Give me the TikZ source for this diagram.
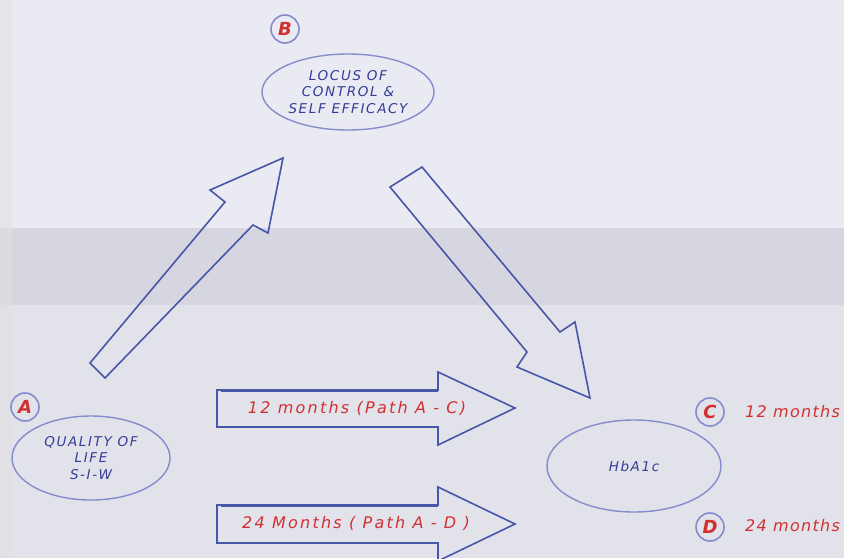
\documentclass[tikz,border=0pt]{standalone}
\usepackage{fontspec}
\setmainfont{DejaVu Sans}
\newfontfamily\wideit[LetterSpace=12]{DejaVu Sans}
\newfontfamily\widerit[LetterSpace=8]{DejaVu Sans}
\newfontfamily\widestit[LetterSpace=14]{DejaVu Sans}
\usetikzlibrary{shapes.geometric}
\definecolor{pagebg}{RGB}{234,234,243}
\definecolor{bandbg}{RGB}{214,214,224}
\definecolor{lowbg}{RGB}{226,226,235}
\definecolor{arrowblue}{RGB}{72,86,168}
\definecolor{ellblue}{RGB}{132,140,206}
\definecolor{txtblue}{RGB}{52,62,150}
\definecolor{lblred}{RGB}{210,48,48}
\tikzset{
  oval/.style={ellipse, draw=ellblue, line width=1.4pt, text=txtblue, align=center,
     font=\wideit\itshape\fontsize{13.5}{16.5}\selectfont, inner sep=0pt},
  letterring/.style={circle, draw=ellblue, line width=1.6pt, minimum size=28pt, inner sep=0pt,
     text=lblred, font=\bfseries\itshape\fontsize{18}{18}\selectfont},
  redlabel/.style={text=lblred, font=\widerit\itshape\fontsize{16}{16}\selectfont, inner sep=0pt},
  pathlabel/.style={text=lblred, font=\widestit\itshape\fontsize{16}{16}\selectfont, inner sep=0pt}
}
\tikzset{
  blockarrow/.style={draw=arrowblue, line width=1.6pt, line join=miter}
}
\begin{document}
\begin{tikzpicture}[x=1pt,y=-1pt]
\useasboundingbox (0,0) rectangle (844,558);
\begin{scope}
\clip (0,0) rectangle (844,558);
% page background
\fill[pagebg] (0,0) rectangle (844,558);
\fill[bandbg] (0,228) rectangle (844,305);
\fill[lowbg] (0,305) rectangle (844,558);
\fill[black!12,opacity=0.5] (0,0) rectangle (12,558);

% ovals
\node[oval, minimum width=172pt, minimum height=76pt] (locus) at (348,92) {LOCUS OF\\CONTROL \&\\SELF EFFICACY};
\node[oval, minimum width=158pt, minimum height=84pt] (qol) at (91,458) {QUALITY OF\\LIFE\\S-I-W};
\node[oval, minimum width=174pt, minimum height=92pt] (hba) at (634,466) {HbA1c};

% letter rings
\node[letterring] (B) at (285,29) {B};
\node[letterring] (A) at (25,407) {A};
\node[letterring] (C) at (710,412) {C};
\node[letterring] (D) at (710,527) {D};
\node[redlabel, anchor=west] (c12) at (745,412) {12 months};
\node[redlabel, anchor=west] (d24) at (745,526) {24 months};

% diagonal block arrows
\coordinate (locusleft) at (283,158);
\draw[blockarrow] (90,363) -- (225,202) -- (210,190) -- (locusleft) -- (268,233) -- (253,225) -- (105,378) -- cycle;
\coordinate (hbatop) at (590,398);
\draw[blockarrow] (390,187) -- (422,167) -- (560,332) -- (575,322) -- (hbatop) -- (517,367) -- (527,352) -- cycle;

% horizontal block arrows
\coordinate (tip1) at (515,408);
\draw[blockarrow] (217,390) -- (438,390) -- (438,372) -- (tip1) -- (438,445) -- (438,427) -- (217,427) -- cycle;
\draw[arrowblue, line width=2.6pt] (221,390.5) -- (438,390.5);
\coordinate (tip2) at (515,524);
\draw[blockarrow] (217,505) -- (438,505) -- (438,487) -- (tip2) -- (438,561) -- (438,543) -- (217,543) -- cycle;
\draw[arrowblue, line width=2.6pt] (221,505.5) -- (438,505.5);

\node[pathlabel] (p1) at (357,408) {12 months (Path A - C)};
\node[pathlabel] (p2) at (356,523) {24 Months ( Path A - D )};
\end{scope}
\end{tikzpicture}
\end{document}
